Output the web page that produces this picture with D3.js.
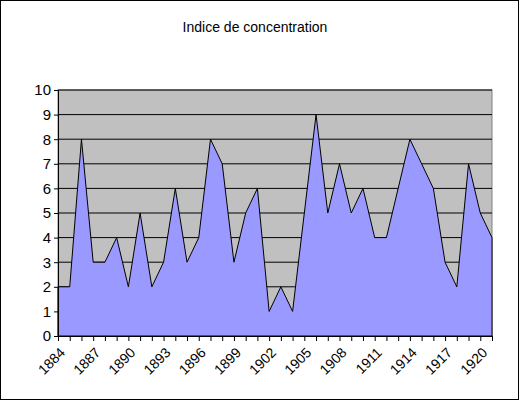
<!DOCTYPE html>
<html><head><meta charset="utf-8">
<script src="https://cdn.jsdelivr.net/npm/d3@7"></script>
<style>body{margin:0;background:#fff;font-family:"Liberation Sans",Arial,sans-serif}</style>
</head><body><svg id="c" width="520" height="405"></svg>
<script>
// Chart data
const years = d3.range(1884, 1922);
const values = [2,2,8,3,3,4,2,5,2,3,6,3,4,8,7,3,5,6,1,2,1,5,9,5,7,5,6,4,4,6,8,7,6,3,2,7,5,4];
const yTicks = d3.range(0, 11);
const title = "Indice de concentration";

var svg = d3.select("#c");
var plotLeft = 58, plotRight = 492, plotTop = 90, plotBottom = 336;

svg.append("rect").attr("x", 0.5).attr("y", 0.5).attr("width", 518).attr("height", 399)
  .attr("fill", "#fff").attr("stroke", "#000");

svg.append("text").attr("x", 255).attr("y", 32).attr("text-anchor", "middle")
  .attr("font-size", 14).text(title);

var x = d3.scalePoint().domain(years).range([plotLeft, plotRight]);
var y = d3.scaleLinear().domain([0, 10]).range([plotBottom, plotTop]);

svg.append("rect").attr("x", plotLeft).attr("y", plotTop).attr("width", plotRight - plotLeft)
  .attr("height", plotBottom - plotTop).attr("fill", "#c0c0c0").attr("stroke", "#808080");

// gridlines
svg.selectAll(".grid").data(yTicks.slice(1)).enter().append("line")
  .attr("x1", plotLeft).attr("x2", plotRight).attr("y1", d => y(d)).attr("y2", d => y(d))
  .attr("stroke", "#000");

var area = d3.area().x((d, i) => x(years[i])).y0(y(0)).y1(d => y(d));
svg.append("path").datum(values).attr("d", area)
  .attr("fill", "#9999ff").attr("stroke", "#000").attr("stroke-width", 1);

var yAxis = svg.append("g").attr("transform", "translate(" + plotLeft + ",0)")
  .call(d3.axisLeft(y).tickValues(yTicks).tickSize(4).tickFormat(d3.format("d")));
yAxis.selectAll("text").attr("font-size", 15).attr("fill", "#000");
yAxis.selectAll("line,path").attr("stroke", "#000");

var xAxis = svg.append("g").attr("transform", "translate(0," + plotBottom + ")")
  .call(d3.axisBottom(x).tickSize(5).tickSizeOuter(0)
    .tickFormat(d => (d - 1884) % 3 === 0 ? d : ""));
xAxis.selectAll("line,path").attr("stroke", "#000");
xAxis.selectAll("text").attr("font-size", 14).attr("fill", "#000")
  .attr("text-anchor", "end").attr("y", 0).attr("dy", "0.35em")
  .attr("transform", "translate(4,14) rotate(-45)");
</script></body></html>
